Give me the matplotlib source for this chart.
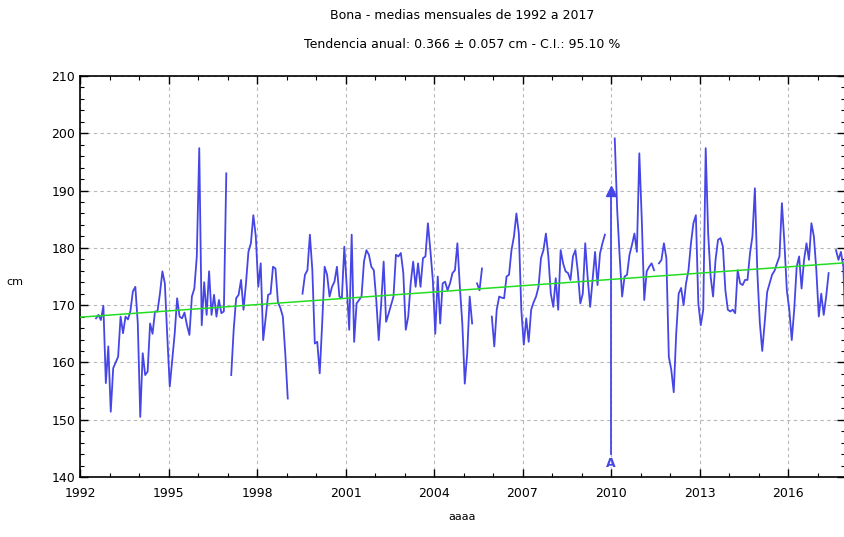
import numpy as np
import matplotlib
matplotlib.use("Agg")
import matplotlib.pyplot as plt
from matplotlib.ticker import MultipleLocator

nan = np.nan

# monthly mean sea level (cm), Jan..Dec of each year, nan = no data
y1992 = [nan, nan, nan, nan, nan, nan, 167.7, 168.3, 167.4, 169.9, 156.4, 162.8]
y1993 = [151.4, 159.0, 160.0, 161.0, 168.0, 165.1, 168.0, 167.5, 169.0, 172.4, 173.2, 166.8]
y1994 = [150.5, 161.6, 157.8, 158.4, 166.8, 165.0, 168.9, 168.9, 172.0, 175.9, 173.8, 164.5]
y1995 = [155.8, 160.5, 165.0, 171.2, 168.0, 167.7, 168.7, 166.5, 164.8, 171.5, 172.9, 178.5]
y1996 = [197.4, 166.5, 174.0, 168.3, 175.9, 168.3, 171.8, 168.0, 170.9, 168.6, 168.9, 193.0]
y1997 = [nan, 157.8, 165.7, 171.2, 171.8, 174.4, 169.2, 173.8, 179.3, 180.8, 185.7, 182.0]
y1998 = [173.2, 177.3, 163.9, 167.7, 171.8, 172.0, 176.7, 176.4, 170.5, 169.5, 168.0, 161.5]
y1999 = [153.7, nan, nan, nan, nan, nan, 172.0, 175.3, 176.1, 182.3, 176.1, 163.3]
y2000 = [163.6, 158.1, 166.8, 176.7, 175.3, 171.5, 173.2, 174.1, 176.7, 171.5, 171.2, 180.2]
y2001 = [173.2, 165.7, 182.3, 163.6, 170.3, 170.9, 171.5, 177.6, 179.6, 178.8, 176.7, 176.1]
y2002 = [170.9, 163.9, 170.3, 177.6, 167.1, 168.5, 170.0, 171.5, 178.8, 178.5, 179.1, 175.6]
y2003 = [165.7, 168.0, 173.8, 177.6, 173.2, 177.3, 173.2, 178.2, 178.5, 184.3, 179.6, 174.4]
y2004 = [165.0, 175.0, 166.8, 173.8, 174.1, 172.6, 173.8, 175.6, 176.1, 180.8, 173.2, 166.8]
y2005 = [156.3, 161.6, 171.5, 166.8, nan, 173.8, 172.6, 176.4, nan, nan, nan, 168.0]
y2006 = [162.8, 169.2, 171.5, 171.3, 171.2, 175.0, 175.3, 179.6, 182.0, 186.0, 182.5, 169.2]
y2007 = [163.1, 167.7, 163.6, 169.2, 170.5, 171.5, 173.2, 178.2, 179.6, 182.5, 178.5, 172.0]
y2008 = [169.7, 174.7, 169.2, 179.6, 177.3, 175.9, 175.6, 174.4, 178.5, 179.6, 175.8, 170.3]
y2009 = [172.0, 180.8, 174.7, 169.7, 174.4, 179.3, 173.5, 179.0, 180.8, 182.3, nan, nan]
y2010 = [nan, 199.1, 186.6, 178.5, 171.5, 175.0, 175.3, 178.8, 180.5, 182.5, 179.3, 196.5]
y2011 = [184.9, 170.9, 175.9, 176.7, 177.3, 176.1, nan, 177.3, 177.9, 180.8, 178.2, 161.0]
y2012 = [158.7, 154.8, 165.0, 172.0, 173.0, 170.0, 173.8, 176.1, 180.8, 184.3, 185.7, 170.3]
y2013 = [166.5, 169.2, 197.4, 182.5, 175.0, 171.5, 177.9, 181.4, 181.7, 180.2, 172.6, 169.2]
y2014 = [168.9, 169.2, 168.6, 176.1, 173.8, 173.5, 174.4, 174.4, 179.0, 182.0, 190.4, 175.8]
y2015 = [167.0, 162.0, 167.0, 172.3, 173.8, 175.3, 176.0, 177.3, 178.5, 187.8, 181.0, 172.6]
y2016 = [169.2, 163.9, 169.2, 176.7, 178.5, 172.9, 177.9, 180.8, 177.9, 184.3, 182.0, 176.1]
y2017 = [168.0, 172.0, 168.3, 171.5, 175.6, nan, nan, 179.6, 177.9, 179.3, 176.7, 163.0]

years = list(range(1992, 2018))
monthly = [y1992, y1993, y1994, y1995, y1996, y1997, y1998, y1999, y2000,
           y2001, y2002, y2003, y2004, y2005, y2006, y2007, y2008, y2009,
           y2010, y2011, y2012, y2013, y2014, y2015, y2016, y2017]

# linear trend (cm/yr) and its value at the start of 1992
trend_slope = 0.366
trend_1992 = 167.9

# event marker
event_year = 2010.0
event_top = 190.0
event_bottom = 144.0

sl = np.array(monthly, dtype=float).ravel()
t = np.array([y + (m + 0.5) / 12.0 for y in years for m in range(12)])

fig = plt.figure(figsize=(8.45, 5.37), dpi=100)
ax = fig.add_axes([0.0947, 0.1117, 0.9053, 0.7468])

blue = "#4646e6"
ax.plot(t, sl, color=blue, lw=1.3, zorder=3)

tl = np.array([1992.0, 2018.0])
ax.plot(tl, trend_1992 + trend_slope * (tl - 1992.0), color="#22dd22", lw=1.1, zorder=4)

# vertical event line with markers
ax.plot([event_year, event_year], [event_bottom, event_top], color=blue, lw=1.3, zorder=3)
ax.plot(event_year, event_top, marker="^", color=blue, ms=7, zorder=5)
ax.text(event_year, event_bottom - 1.6, "A", color=blue, fontsize=9, fontweight="bold",
        ha="center", va="center", zorder=5)

ax.set_xlim(1992, 2017.93)
ax.set_ylim(140, 210)
ax.xaxis.set_major_locator(MultipleLocator(3))
ax.xaxis.set_minor_locator(MultipleLocator(1))
ax.yaxis.set_major_locator(MultipleLocator(10))
ax.yaxis.set_minor_locator(MultipleLocator(2))
ax.tick_params(which="both", direction="in", top=True, right=True, labelsize=9)
ax.tick_params(which="major", length=6, width=1)
ax.tick_params(which="minor", length=3, width=0.8)
ax.tick_params(axis="x", which="major", pad=7.5)
ax.grid(True, which="major", color="#b8b8b8", linestyle=(0, (3, 3)), lw=0.8)
for s in ax.spines.values():
    s.set_linewidth(1.2)

ax.set_xlabel("aaaa", fontsize=8, labelpad=8)
fig.text(0.018, 0.475, "cm", ha="center", va="center", fontsize=8)

fig.text(0.5473, 0.972, "Bona - medias mensuales de 1992 a 2017", ha="center", va="center", fontsize=9)
fig.text(0.5473, 0.918, "Tendencia anual: 0.366 \u00b1 0.057 cm - C.I.: 95.10 %", ha="center", va="center", fontsize=9)

fig.savefig("out.png", dpi=100)
